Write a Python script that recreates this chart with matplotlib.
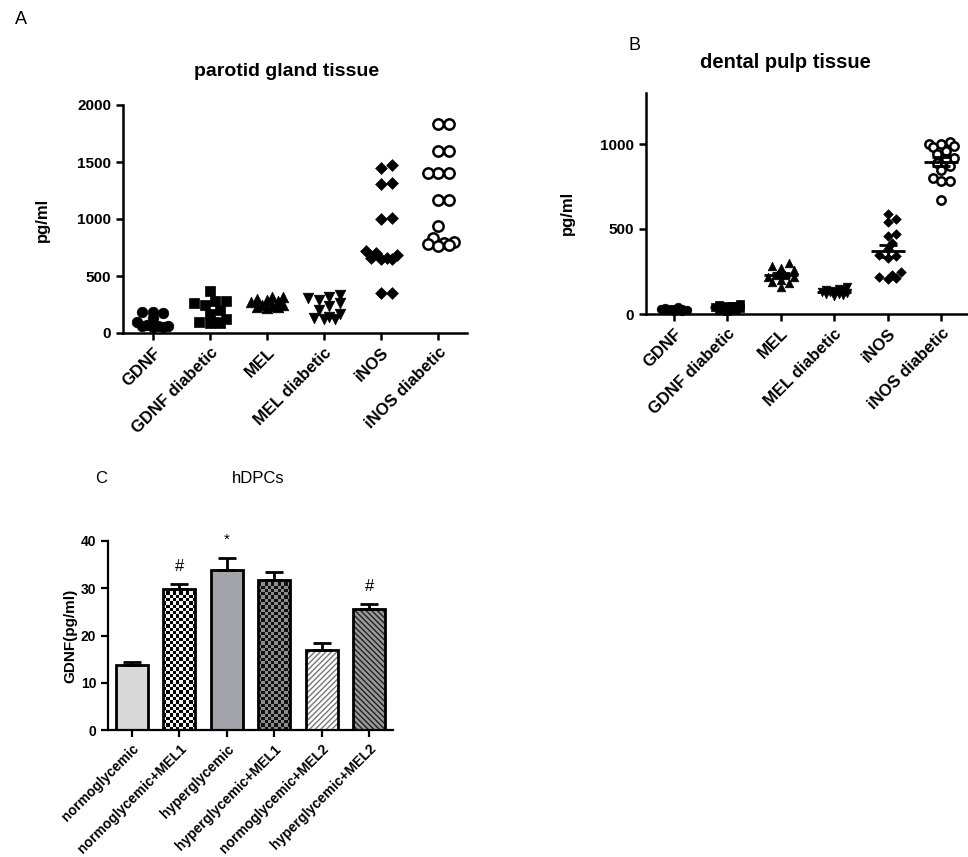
import numpy as np
import matplotlib
matplotlib.use('Agg')
import matplotlib.pyplot as plt
from matplotlib.colors import ListedColormap

plt.rcParams['font.family'] = ['Liberation Sans', 'DejaVu Sans']

# Panel A - parotid gland tissue (pg/ml)
groups = ['GDNF', 'GDNF diabetic', 'MEL', 'MEL diabetic', 'iNOS', 'iNOS diabetic']
par_gdnf = [185, 180, 175, 130, 100, 70, 60, 55, 60, 65, 55]
par_gdnf_dia = [365, 285, 280, 260, 250, 205, 170, 120, 95, 90, 85, 100]
par_mel = [320, 315, 300, 290, 270, 250, 235, 225, 220, 230, 245, 280]
par_mel_dia = [330, 320, 310, 290, 260, 240, 200, 165, 130, 125, 120, 140]
par_inos = [1470, 1450, 1320, 1310, 1010, 1000, 720, 700, 680, 660, 650, 650, 660, 350, 350]
par_inos_dia = [1830, 1830, 1600, 1600, 1400, 1400, 1400, 1170, 1170, 940, 830, 800, 790, 780, 770, 760]

# Panel B - dental pulp tissue (pg/ml)
pul_gdnf = [30, 25, 35, 20, 28, 40, 22, 30, 18, 25, 32]
pul_gdnf_dia = [60, 55, 50, 40, 35, 30, 25, 20, 45, 30, 40, 50]
pul_mel = [300, 280, 270, 260, 230, 220, 215, 200, 190, 180, 160, 230]
pul_mel_dia = [160, 150, 140, 135, 130, 125, 120, 115, 110, 105, 140, 130]
pul_inos = [590, 560, 540, 470, 460, 420, 380, 350, 340, 330, 250, 230, 210, 205, 220]
pul_inos_dia = [1000, 1000, 1010, 990, 980, 960, 940, 920, 910, 890, 870, 850, 800, 780, 780, 670]

# Panel C - hDPCs GDNF (pg/ml)
conditions = ['normoglycemic', 'normoglycemic+MEL1', 'hyperglycemic',
              'hyperglycemic+MEL1', 'normoglycemic+MEL2', 'hyperglycemic+MEL2']
gdnf_mean = [13.7, 29.9, 33.9, 31.8, 16.9, 25.6]
gdnf_sem = [0.7, 0.9, 2.6, 1.6, 1.6, 1.0]
signif = ['', '#', '*', '', '', '#']

markers = ['o', 's', '^', 'v', 'D', 'o']
msize = [1.0, 0.95, 1.0, 1.0, 0.62, 0.95]
filled = [True, True, True, True, True, False]

fig = plt.figure(figsize=(9.68, 8.57), dpi=100)
W, H = 968.0, 857.0


def box(l, t, r, b):
    return [l / W, 1 - b / H, (r - l) / W, (b - t) / H]


def style(ax, lw=1.8):
    for s in ['top', 'right']:
        ax.spines[s].set_visible(False)
    for s in ['left', 'bottom']:
        ax.spines[s].set_linewidth(lw)
    ax.tick_params(width=lw, length=5, direction='out')


def swarm(ax, vals, diam, maxw=0.3):
    # beeswarm offsets (category units); overlap allowed once the column is full
    fig.canvas.draw()
    p0 = ax.transData.transform((0, 0))
    p1 = ax.transData.transform((1, 1))
    sx, sy = p1[0] - p0[0], p1[1] - p0[1]
    vals = np.asarray(vals, float)
    offs = np.zeros(len(vals))
    placed = []
    step = diam * 0.5
    cands = [0.0]
    j = 1
    while j * step <= maxw * sx:
        cands += [j * step, -j * step]
        j += 1
    for i in np.argsort(vals, kind='stable'):
        y = vals[i] * sy
        best, bestd = 0.0, -1
        for c in cands:
            d = min([np.hypot(c - px, y - py) for px, py in placed] + [1e9])
            if d >= diam * 0.9:
                best = c
                break
            if d > bestd:
                best, bestd = c, d
        placed.append((best, y))
        offs[i] = best / sx
    return offs


def scatter_panel(ax, data, ymax, yticks, s, diam, show_mean):
    ax.set_xlim(-0.52, 5.5)
    ax.set_ylim(0, ymax)
    style(ax)
    for i, vals in enumerate(data):
        off = swarm(ax, vals, diam)
        fc = 'black' if filled[i] else 'white'
        ax.scatter(i + off, vals, s=s * msize[i], marker=markers[i], facecolor=fc,
                   edgecolor='black', linewidth=1.8 if not filled[i] else 0.5,
                   zorder=3, clip_on=False)
        if show_mean:
            m = np.mean(vals)
            se = np.std(vals, ddof=1) / np.sqrt(len(vals))
            ax.hlines(m, i - 0.32, i + 0.32, color='black', lw=2, zorder=4)
            ax.hlines([m - se, m + se], i - 0.17, i + 0.17, color='black', lw=2, zorder=4)
            ax.vlines(i, m - se, m + se, color='black', lw=2, zorder=4)
    ax.set_yticks(yticks)
    ax.set_yticklabels([str(t) for t in yticks], fontsize=11, fontweight='bold')
    ax.set_xticks(range(len(groups)))
    ax.set_xticklabels(groups, rotation=45, ha='right', rotation_mode='anchor',
                       fontsize=12, fontweight='bold')


# ---- A ----
axA = fig.add_axes(box(123, 105, 467, 333))
scatter_panel(axA, [par_gdnf, par_gdnf_dia, par_mel, par_mel_dia, par_inos, par_inos_dia],
              2000, [0, 500, 1000, 1500, 2000], 58, 10.5, False)
fig.text(15 / W, 1 - 20 / H, 'A', fontsize=13, ha='left', va='center')
fig.text(287 / W, 1 - 72 / H, 'parotid gland tissue', fontsize=14, fontweight='bold',
         ha='center', va='center')
fig.text(42 / W, 1 - 220 / H, 'pg/ml', fontsize=12, fontweight='bold', rotation=90,
         ha='center', va='center')

# ---- B ----
axB = fig.add_axes(box(646, 93, 968, 314))
scatter_panel(axB, [pul_gdnf, pul_gdnf_dia, pul_mel, pul_mel_dia, pul_inos, pul_inos_dia],
              1300, [0, 500, 1000], 38, 8.5, True)
fig.text(628 / W, 1 - 45 / H, 'B', fontsize=13, ha='left', va='center')
fig.text(785 / W, 1 - 62 / H, 'dental pulp tissue', fontsize=14.5, fontweight='bold',
         ha='center', va='center')
fig.text(567 / W, 1 - 213 / H, 'pg/ml', fontsize=12, fontweight='bold', rotation=90,
         ha='center', va='center')

# ---- C ----
axC = fig.add_axes(box(108, 541, 393, 730))
axC.set_xlim(-0.5, 5.5)
axC.set_ylim(0, 40)
style(axC, 1.6)
x = np.arange(len(conditions))
bars = axC.bar(x, gdnf_mean, width=0.68, color='white', edgecolor='none', zorder=2)
fig.canvas.draw()


def checker(ax, bar, cell, c1, c2):
    x0, w, h = bar.get_x(), bar.get_width(), bar.get_height()
    a = ax.transData.transform((x0, 0))
    b = ax.transData.transform((x0 + w, h))
    nx = max(1, int(round((b[0] - a[0]) / cell)))
    ny = max(1, int(round((b[1] - a[1]) / cell)))
    arr = np.indices((ny, nx)).sum(axis=0) % 2
    im = ax.imshow(arr, cmap=ListedColormap([c1, c2]), extent=(x0, x0 + w, 0, h),
                   aspect='auto', origin='lower', interpolation='nearest', zorder=2.5)
    im.set_clip_path(bar)


fills = ['#d9d9d9', None, '#a3a3aa', None, 'white', '#9a9a9a']
for i, b in enumerate(bars):
    if fills[i] is not None:
        b.set_facecolor(fills[i])
checker(axC, bars[1], 3.3, 'black', '#f2f2f2')
checker(axC, bars[3], 3.3, '#111111', '#8c8c8c')

plt.rcParams['hatch.linewidth'] = 1.0
axC.bar(x[4], gdnf_mean[4], width=0.68, facecolor='none', edgecolor='#777777',
        hatch='//////', lw=0, zorder=3)
axC.bar(x[5], gdnf_mean[5], width=0.68, facecolor='none', edgecolor='#222222',
        hatch='\\\\\\\\\\\\', lw=0, zorder=3)
axC.bar(x, gdnf_mean, width=0.68, facecolor='none', edgecolor='black', lw=2, zorder=4)
axC.errorbar(x, gdnf_mean, yerr=[np.zeros(len(x)), gdnf_sem], fmt='none', ecolor='black',
             elinewidth=2, capsize=6.5, capthick=2, zorder=5)
for i, t in enumerate(signif):
    if t:
        axC.text(x[i], gdnf_mean[i] + gdnf_sem[i] + 2.2, t, ha='center', va='bottom',
                 fontsize=12 if t == '#' else 11, clip_on=False)
axC.set_xlim(-0.5, 5.5)
axC.set_ylim(0, 40)
axC.set_yticks([0, 10, 20, 30, 40])
axC.set_yticklabels(['0', '10', '20', '30', '40'], fontsize=10, fontweight='bold')
axC.set_xticks(x)
axC.set_xticklabels(conditions, rotation=45, ha='right', rotation_mode='anchor',
                    fontsize=10, fontweight='bold')
fig.text(95 / W, 1 - 478 / H, 'C', fontsize=12, ha='left', va='center')
fig.text(258 / W, 1 - 478 / H, 'hDPCs', fontsize=12, ha='center', va='center')
fig.text(70 / W, 1 - 636 / H, 'GDNF(pg/ml)', fontsize=11, fontweight='bold', rotation=90,
         ha='center', va='center')

fig.savefig('out.png', dpi=100)
